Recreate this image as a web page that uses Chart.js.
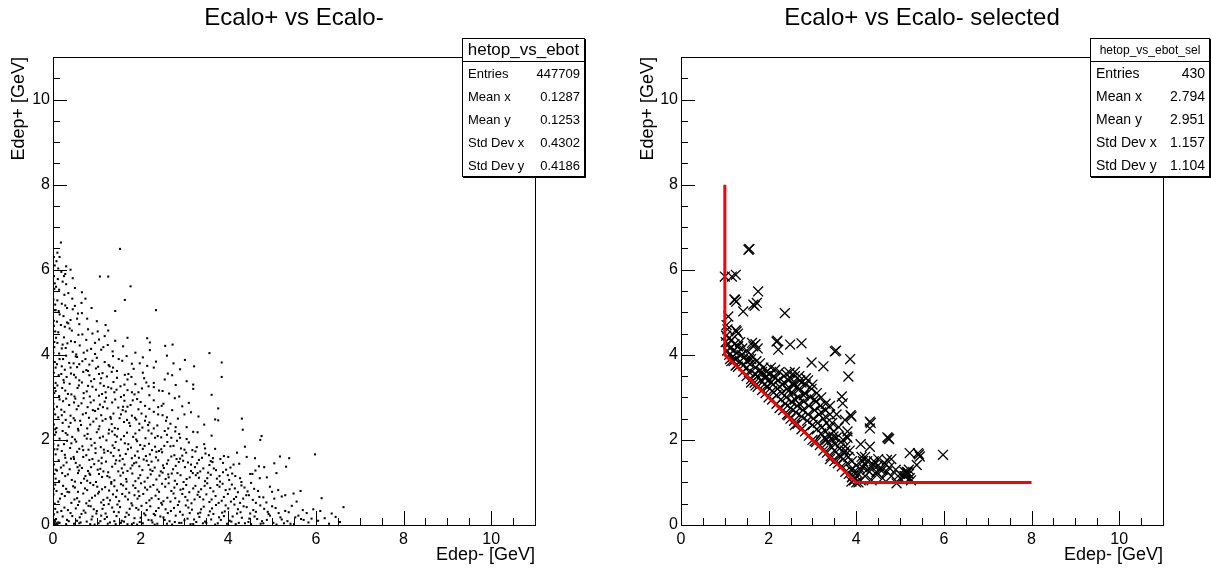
<!DOCTYPE html>
<html>
<head>
<meta charset="utf-8">
<script src="https://cdn.jsdelivr.net/npm/chart.js@4.4.0/dist/chart.umd.min.js"></script>
<style>
body { margin: 0; background: #fff; font-family: "Liberation Sans", Arial, sans-serif; }
#wrap { position: relative; width: 1211px; height: 571px; overflow: hidden; }
canvas { position: absolute; top: 0; }
.title { position: absolute; top: 3px; font-size: 24px; white-space: nowrap; transform: translateX(-50%); }
.stats { position: absolute; top: 38px; height: 139px; box-sizing: border-box; background: #fff;
  border: 1px solid #000; box-shadow: 1px 1px 0 #000; }
.stats .head { height: 22px; line-height: 22px; text-align: center; border-bottom: 1px solid #000; white-space: nowrap; }
.stats .row { display: flex; justify-content: space-between; height: 23px; line-height: 23px; padding: 0 4px 0 5px; white-space: nowrap; }
</style>
</head>
<body>
<div id="wrap">
  <canvas id="cAll" width="605" height="571" style="left:0"></canvas>
  <canvas id="cSel" width="606" height="571" style="left:605px"></canvas>
</div>
<script>
// axis setup
var tickValues = [0, 2, 4, 6, 8, 10];
var axisMax = 11;

var statLabels = ['Entries', 'Mean x', 'Mean y', 'Std Dev x', 'Std Dev y'];
var statsAll = ['447709', '0.1287', '0.1253', '0.4302', '0.4186'];
var statsSel = ['430', '2.794', '2.951', '1.157', '1.104'];

// selection cut drawn in red
var cutLine = [[1, 8], [1, 4], [4, 1], [8, 1]];

// all events (dots)
var hetopAll = [
  [0,0],[0.03,0.02],[0.06,0.01],[0.02,0.05],[0.08,0.04],[0.05,0.08],[0.1,0.02],[0.01,0.1],[0.12,0.06],[0.04,0.12],
  [0.15,0.05],[0.32,0.12],[0.48,0.03],[0.61,0.18],[0.77,0.08],[0.9,0.2],[1.04,0.04],[1.18,0.14],[1.3,0.06],[1.45,0.21],
  [1.57,0.1],[1.7,0.02],[1.86,0.16],[1.98,0.07],[2.11,0.23],[2.25,0.11],[2.38,0.03],[2.52,0.18],[2.66,0.09],[2.8,0.22],
  [2.93,0.05],[3.07,0.15],[3.2,0.02],[3.34,0.19],[3.47,0.08],[3.61,0.13],[3.76,0.04],[3.9,0.21],[4.03,0.1],[4.17,0.02],
  [4.31,0.17],[4.46,0.07],[4.6,0.2],[4.74,0.03],[4.88,0.12],[5.03,0.05],[5.19,0.18],[5.35,0.09],[5.5,0.02],[5.66,0.14],
  [5.83,0.06],[6.05,0.1],[6.3,0.03],[6.55,0.07],
  [0.22,0.2],[0.55,0.1],[0.85,0.02],[1.1,0.22],[1.4,0.09],[1.65,0.19],[1.92,0.01],[2.18,0.12],[2.45,0.2],[2.72,0.01],
  [3.0,0.11],[3.27,0.07],[3.55,0.23],[3.83,0.12],[4.1,0.2],[4.38,0.04],[4.66,0.14],[4.95,0.22],[5.27,0.04],[5.6,0.22],
  [0.3,0.02],[0.6,0.04],[0.95,0.01],[1.25,0.03],[1.55,0.05],[1.8,0.02],[2.05,0.04],[2.32,0.01],[2.6,0.03],[2.88,0.05],
  [3.14,0.02],[3.42,0.04],[3.7,0.01],[3.97,0.03],[4.24,0.05],[4.52,0.02],[4.8,0.04],[5.1,0.01],[5.42,0.03],[5.72,0.12],[6.2,0.16],
  [0.1,0.3],[0.26,0.41],[0.4,0.28],[0.57,0.47],[0.7,0.34],[0.86,0.44],[0.99,0.27],[1.13,0.38],[1.27,0.49],[1.39,0.31],
  [1.53,0.42],[1.68,0.29],[1.81,0.46],[1.95,0.36],[2.08,0.27],[2.22,0.44],[2.35,0.33],[2.49,0.48],[2.62,0.28],[2.76,0.4],
  [2.9,0.31],[3.03,0.46],[3.17,0.36],[3.31,0.27],[3.44,0.43],[3.58,0.32],[3.72,0.47],[3.86,0.29],[4.0,0.39],[4.14,0.48],
  [4.28,0.3],[4.42,0.42],[4.57,0.35],[4.73,0.46],[4.9,0.31],[5.08,0.4],[5.3,0.33],[5.45,0.45],[5.79,0.28],[5.94,0.37],
  [6.36,0.27],[6.63,0.42],
  [0.34,0.35],[0.65,0.26],[0.93,0.37],[1.2,0.27],[1.47,0.48],[1.75,0.38],[2.02,0.45],[2.3,0.26],[2.57,0.37],[2.85,0.47],
  [3.12,0.28],[3.38,0.37],[3.66,0.26],[3.94,0.46],[4.22,0.37],[4.5,0.27],[4.82,0.38],[5.15,0.28],
  [0.12,0.55],[0.27,0.68],[0.42,0.52],[0.55,0.63],[0.69,0.74],[0.83,0.57],[0.96,0.69],[1.1,0.53],[1.24,0.64],[1.37,0.72],
  [1.51,0.56],[1.65,0.67],[1.79,0.51],[1.93,0.62],[2.06,0.73],[2.2,0.58],[2.34,0.69],[2.47,0.52],[2.61,0.64],[2.75,0.74],
  [2.88,0.55],[3.02,0.66],[3.16,0.51],[3.3,0.71],[3.43,0.6],[3.57,0.54],[3.71,0.68],[3.85,0.57],[3.99,0.73],[4.13,0.61],
  [4.27,0.52],[4.41,0.7],[4.56,0.59],[4.71,0.66],[4.87,0.53],[5.05,0.62],[5.22,0.67],[5.56,0.55],[5.49,0.74],[6.13,0.63],
  [0.2,0.73],[0.49,0.6],[0.76,0.51],[1.03,0.74],[1.3,0.58],[1.58,0.73],[1.86,0.7],[2.13,0.52],[2.41,0.61],[2.68,0.55],
  [2.95,0.73],[3.23,0.6],[3.5,0.72],[3.78,0.52],[4.06,0.55],[4.34,0.62],[4.63,0.52],
  [0.08,0.8],[0.23,0.92],[0.37,0.77],[0.5,0.88],[0.64,0.99],[0.78,0.82],[0.92,0.94],[1.05,0.78],[1.19,0.89],[1.33,0.97],
  [1.46,0.81],[1.6,0.93],[1.74,0.76],[1.88,0.87],[2.01,0.98],[2.15,0.83],[2.29,0.94],[2.42,0.78],[2.56,0.9],[2.7,0.8],
  [2.83,0.96],[2.97,0.85],[3.11,0.77],[3.25,0.92],[3.38,0.84],[3.52,0.98],[3.66,0.79],[3.8,0.9],[3.94,0.82],[4.08,0.95],
  [4.22,0.77],[4.37,0.88],[4.52,0.99],[4.68,0.8],[4.95,0.9],[5.14,0.82],
  [0.3,0.85],[0.57,0.78],[0.85,0.99],[1.12,0.84],[1.4,0.91],[1.67,0.85],[1.95,0.79],[2.22,0.9],[2.49,0.97],[2.77,0.88],
  [3.04,0.94],[3.32,0.78],[3.59,0.87],[3.87,0.97],[4.15,0.86],[4.44,0.79],
  [0.14,1.03],[0.28,1.15],[0.43,1.06],[0.57,1.22],[0.71,1.09],[0.85,1.18],[0.98,1.01],[1.12,1.13],[1.26,1.24],[1.4,1.05],
  [1.54,1.16],[1.67,1.08],[1.81,1.21],[1.95,1.1],[2.09,1.02],[2.23,1.19],[2.36,1.07],[2.5,1.23],[2.64,1.12],[2.78,1.04],
  [2.91,1.17],[3.05,1.08],[3.19,1.22],[3.33,1.11],[3.47,1.03],[3.6,1.18],[3.74,1.09],[3.88,1.24],[4.02,1.06],[4.16,1.15],
  [4.3,1.01],[4.5,1.2],[4.72,1.1],[5.1,1.22],
  [0.21,1.22],[0.5,1.02],[0.78,1.04],[1.05,1.2],[1.33,1.01],[1.6,1.23],[1.88,1.03],[2.16,1.11],[2.43,1.16],[2.71,1.21],
  [2.98,1.01],[3.26,1.17],[3.54,1.23],[3.81,1.02],[4.09,1.21],
  [0.09,1.28],[0.24,1.4],[0.38,1.31],[0.52,1.46],[0.66,1.34],[0.8,1.27],[0.94,1.43],[1.08,1.32],[1.21,1.49],[1.35,1.37],
  [1.49,1.26],[1.63,1.42],[1.77,1.33],[1.9,1.47],[2.04,1.29],[2.18,1.41],[2.32,1.35],[2.46,1.26],[2.6,1.44],[2.74,1.31],
  [2.87,1.48],[3.01,1.36],[3.15,1.27],[3.29,1.45],[3.43,1.33],[3.57,1.41],[3.72,1.29],[3.88,1.46],[4.05,1.35],[4.25,1.44],
  [4.82,1.36],[5.32,1.37],[4.62,1.28],
  [0.31,1.47],[0.59,1.28],[0.87,1.36],[1.15,1.26],[1.42,1.44],[1.7,1.27],[1.97,1.38],[2.25,1.49],[2.53,1.34],[2.8,1.39],
  [3.08,1.47],[3.36,1.26],[3.64,1.48],[3.95,1.3],
  [0.13,1.52],[0.27,1.65],[0.41,1.56],[0.55,1.72],[0.69,1.6],[0.83,1.53],[0.97,1.69],[1.11,1.58],[1.25,1.74],[1.38,1.62],
  [1.52,1.51],[1.66,1.67],[1.8,1.57],[1.93,1.73],[2.07,1.54],[2.21,1.66],[2.35,1.59],[2.49,1.71],[2.63,1.52],[2.77,1.64],
  [2.9,1.56],[3.04,1.7],[3.18,1.6],[3.33,1.53],[3.48,1.68],[3.65,1.57],[3.9,1.62],[4.61,1.57],[5.18,1.61],[5.39,1.57],
  [5.98,1.66],[4.2,1.7],
  [0.2,1.74],[0.48,1.55],[0.76,1.64],[1.04,1.51],[1.32,1.7],[1.59,1.55],[1.87,1.63],[2.14,1.51],[2.42,1.74],[2.7,1.61],
  [2.97,1.51],[3.25,1.73],[3.56,1.64],
  [0.1,1.78],[0.25,1.9],[0.39,1.81],[0.53,1.96],[0.67,1.85],[0.81,1.77],[0.95,1.93],[1.09,1.83],[1.22,1.99],[1.36,1.87],
  [1.5,1.76],[1.64,1.92],[1.78,1.82],[1.92,1.97],[2.05,1.79],[2.19,1.91],[2.33,1.84],[2.47,1.78],[2.61,1.95],[2.75,1.86],
  [2.92,1.8],[3.1,1.94],[3.28,1.83],[3.45,1.9],[4.38,1.84],[3.7,1.79],
  [0.32,1.98],[0.6,1.79],[0.88,1.87],[1.16,1.77],[1.43,1.95],[1.71,1.78],[1.99,1.88],[2.26,1.76],[2.54,1.86],[2.83,1.98],[3.18,1.76],
  [0.15,2.03],[0.29,2.16],[0.44,2.07],[0.58,2.22],[0.72,2.1],[0.86,2.02],[1.0,2.18],[1.14,2.08],[1.28,2.24],[1.41,2.12],
  [1.55,2.01],[1.69,2.17],[1.83,2.07],[1.97,2.23],[2.11,2.04],[2.25,2.15],[2.39,2.09],[2.55,2.21],[2.7,2.05],[2.88,2.14],
  [3.05,2.02],[3.2,2.19],[3.62,2.1],[4.33,2.24],[4.73,2.0],[4.76,2.09],
  [0.22,2.21],[0.5,2.01],[0.79,2.14],[1.07,2.05],[1.35,2.2],[1.62,2.09],[1.9,2.01],[2.18,2.22],[2.47,2.06],[2.79,2.2],
  [0.08,2.28],[0.22,2.4],[0.36,2.31],[0.5,2.46],[0.64,2.35],[0.78,2.27],[0.92,2.43],[1.06,2.32],[1.2,2.49],[1.34,2.37],
  [1.48,2.26],[1.62,2.42],[1.76,2.33],[1.9,2.48],[2.04,2.29],[2.2,2.41],[2.38,2.34],[2.58,2.45],[2.8,2.3],[3.7,2.48],
  [3.77,2.46],[4.31,2.5],[3.45,2.36],
  [0.29,2.47],[0.57,2.26],[0.85,2.36],[1.13,2.45],[1.41,2.28],[1.69,2.47],[1.97,2.38],[2.3,2.27],[2.68,2.38],
  [0.12,2.53],[0.26,2.66],[0.4,2.57],[0.54,2.72],[0.68,2.6],[0.82,2.52],[0.96,2.68],[1.1,2.58],[1.24,2.74],[1.38,2.62],
  [1.52,2.51],[1.66,2.67],[1.8,2.57],[1.95,2.72],[2.12,2.55],[2.3,2.66],[2.5,2.58],[2.72,2.7],[3.0,2.6],[3.77,2.74],[3.32,2.55],
  [0.19,2.71],[0.47,2.51],[0.75,2.63],[1.03,2.73],[1.31,2.54],[1.59,2.7],[1.87,2.52],[2.2,2.73],[2.6,2.53],
  [0.09,2.78],[0.23,2.91],[0.37,2.82],[0.51,2.97],[0.65,2.86],[0.79,2.77],[0.93,2.93],[1.07,2.83],[1.21,2.99],[1.35,2.88],
  [1.49,2.76],[1.63,2.92],[1.77,2.82],[1.92,2.96],[2.1,2.8],[2.3,2.93],[2.52,2.85],[2.78,2.98],[3.1,2.87],[2.95,2.79],
  [0.3,2.97],[0.58,2.8],[0.86,2.88],[1.14,2.77],[1.42,2.95],[1.7,2.78],[2.0,2.89],[2.4,2.77],
  [0.14,3.03],[0.28,3.16],[0.42,3.07],[0.56,3.22],[0.7,3.1],[0.84,3.02],[0.98,3.18],[1.12,3.08],[1.26,3.24],[1.4,3.12],
  [1.55,3.01],[1.7,3.17],[1.86,3.07],[2.03,3.21],[2.2,3.05],[2.42,3.16],[2.65,3.09],[3.62,3.06],[3.2,3.2],[2.88,3.02],
  [0.21,3.22],[0.49,3.02],[0.77,3.14],[1.05,3.04],[1.33,3.21],[1.62,3.05],[1.95,3.12],[2.3,3.24],
  [0.1,3.28],[0.24,3.41],[0.38,3.32],[0.52,3.47],[0.66,3.35],[0.8,3.27],[0.94,3.43],[1.08,3.33],[1.23,3.49],[1.38,3.36],
  [1.54,3.26],[1.7,3.42],[1.88,3.31],[2.08,3.45],[2.3,3.34],[2.55,3.42],[2.8,3.29],[3.05,3.38],[3.85,3.48],[3.2,3.3],
  [0.31,3.48],[0.59,3.28],[0.87,3.38],[1.16,3.27],[1.46,3.46],[1.79,3.48],[2.18,3.26],
  [0.13,3.52],[0.27,3.65],[0.41,3.56],[0.55,3.71],[0.69,3.6],[0.83,3.52],[0.98,3.68],[1.13,3.57],[1.29,3.73],[1.46,3.62],
  [1.64,3.53],[1.84,3.67],[2.05,3.58],[2.3,3.7],[2.62,3.56],[2.9,3.66],[3.22,3.73],[2.72,3.52],
  [0.2,3.73],[0.48,3.53],[0.76,3.64],[1.05,3.55],[1.37,3.7],[1.72,3.55],[2.15,3.74],
  [0.09,3.78],[0.23,3.9],[0.37,3.81],[0.52,3.96],[0.67,3.85],[0.83,3.77],[1.0,3.93],[1.18,3.83],[1.37,3.97],[1.58,3.86],
  [1.8,3.79],[2.05,3.94],[2.35,3.84],[3.01,3.88],[3.85,3.82],[2.6,3.98],
  [0.3,3.98],[0.6,3.78],[0.9,3.86],[1.27,3.76],[1.68,3.97],
  [0.14,4.03],[0.29,4.16],[0.45,4.07],[0.61,4.22],[0.78,4.1],[0.96,4.02],[1.15,4.18],[1.36,4.08],[1.6,4.2],[1.88,4.05],
  [2.56,4.21],[2.73,4.24],[3.57,4.04],[2.21,4.11],
  [0.22,4.24],[0.53,4.01],[0.87,4.14],[1.25,4.23],
  [0.1,4.28],[0.25,4.41],[0.41,4.32],[0.58,4.47],[0.76,4.35],[0.96,4.28],[1.18,4.44],[1.42,4.33],[2.15,4.39],[2.21,4.29],[1.7,4.4],
  [0.33,4.27],[0.67,4.48],[1.05,4.36],
  [0.12,4.53],[0.27,4.66],[0.43,4.57],[0.6,4.72],[0.8,4.6],[1.02,4.55],[1.26,4.57],[0.35,4.74],[0.18,4.7],
  [0.09,4.78],[0.24,4.91],[0.4,4.82],[0.57,4.97],[0.78,4.85],[1.0,4.79],[0.32,4.76],[0.66,4.98],
  [0.13,5.03],[0.28,5.16],[0.45,5.07],[0.65,5.22],[0.88,5.1],[1.42,5.03],[2.35,5.05],[0.2,5.2],
  [0.1,5.28],[0.26,5.41],[0.44,5.32],[0.66,5.47],[1.64,5.29],[0.35,5.45],
  [0.14,5.53],[0.3,5.66],[0.5,5.57],[1.77,5.61],[0.22,5.72],
  [0.11,5.78],[0.28,5.9],[1.07,5.84],[1.26,5.84],[0.45,5.8],[0.19,5.95],
  [0.12,6.03],[0.3,6.08],[0.18,6.64],[1.53,6.49],[0.08,6.2],[0.1,6.4],
  [0.02,0.25],[0.04,0.5],[0.01,0.72],[0.05,0.95],[0.03,1.2],[0.02,1.42],[0.06,1.66],[0.01,1.9],[0.04,2.12],[0.02,2.36],
  [0.05,2.6],[0.01,2.85],[0.03,3.1],[0.06,3.34],[0.02,3.58],[0.04,3.83],[0.01,4.05],[0.03,4.3],[0.05,4.55],[0.02,4.8],
  [0.04,5.05],[0.01,5.3],[0.03,5.55],[0.02,5.85],[0.04,6.1],[0.02,6.3],
  [0.05,0.38],[0.02,0.85],[0.06,1.3],[0.03,1.78],[0.05,2.25],[0.02,2.72],[0.04,3.22],[0.06,3.7],[0.03,4.18],[0.02,4.68],
  [0.05,5.18],[0.04,5.68],
  [0.07,0.14],[0.19,0.33],[0.36,0.09],[0.44,0.21],[0.52,0.39],[0.63,0.06],[0.74,0.29],[0.81,0.45],[0.88,0.13],[1.0,0.33],
  [1.08,0.09],[1.16,0.47],[1.23,0.19],[1.35,0.41],[1.43,0.02],[1.5,0.3],[1.62,0.08],[1.73,0.24],[1.84,0.05],[1.9,0.4],
  [2.0,0.17],[2.14,0.35],[2.27,0.06],[2.33,0.23],[2.41,0.4],[2.55,0.12],[2.69,0.33],[2.78,0.07],[2.96,0.24],[3.09,0.41],
  [3.22,0.13],[3.36,0.29],[3.5,0.05],[3.63,0.39],[3.79,0.18],[3.92,0.32],[4.07,0.08],[4.2,0.27],[4.35,0.44],[4.48,0.15],
  [4.63,0.31],[4.77,0.09],[4.92,0.26],[5.0,0.44],[5.22,0.13],[5.38,0.3],[5.53,0.18],[5.7,0.35],[5.9,0.15],[6.1,0.33],[6.45,0.19],
  [0.16,0.62],[0.33,0.78],[0.46,0.91],[0.6,0.55],[0.73,0.86],[0.89,0.64],[1.01,0.9],[1.15,0.59],[1.28,0.81],[1.44,0.66],
  [1.55,0.96],[1.71,0.6],[1.83,0.93],[1.97,0.68],[2.1,0.88],[2.25,0.63],[2.38,0.83],[2.52,0.56],[2.64,0.98],[2.79,0.63],
  [2.91,0.83],[3.07,0.58],[3.2,0.86],[3.35,0.66],[3.46,0.92],[3.62,0.6],[3.75,0.94],[3.9,0.66],[4.03,0.84],[4.18,0.66],
  [4.3,0.93],[4.47,0.7],[4.59,0.85],[4.8,0.65],[5.0,0.78],[5.3,0.7],[5.65,0.8],
  [0.06,1.09],[0.18,1.35],[0.34,1.19],[0.47,1.6],[0.61,1.4],[0.74,1.15],[0.9,1.55],[1.02,1.3],[1.17,1.7],[1.29,1.12],
  [1.44,1.52],[1.57,1.33],[1.72,1.9],[1.85,1.45],[1.99,1.17],[2.12,1.62],[2.27,1.27],[2.4,1.52],[2.57,1.08],[2.68,1.85],
  [2.84,1.22],[2.95,1.63],[3.12,1.12],[3.24,1.36],[3.4,1.58],[3.52,1.1],[3.67,1.33],[3.82,1.55],[3.99,1.17],[4.12,1.42],
  [4.27,1.1],[4.42,1.6],[4.55,1.2],[4.7,1.38],[4.88,1.12],[5.05,1.45],
  [0.12,1.87],[0.28,1.58],[0.42,1.92],[0.56,1.36],[0.69,1.76],[0.83,1.21],[0.97,1.8],[1.11,1.45],[1.24,1.15],[1.4,1.81],
  [1.53,1.63],[1.68,1.02],[1.81,1.4],[1.96,1.58],[2.09,1.86],[2.22,1.3],[2.36,1.72],[2.51,1.4],[2.63,1.19],[2.82,1.55],
  [3.0,1.77],[3.15,1.42],[3.3,1.22],[3.47,1.8],[3.6,1.5],[3.8,1.15],[4.0,1.6],
  [0.07,2.18],[0.2,2.58],[0.33,2.12],[0.48,2.88],[0.62,2.45],[0.77,2.03],[0.91,2.7],[1.04,2.25],[1.18,2.9],[1.32,2.5],
  [1.46,2.08],[1.6,2.78],[1.74,2.4],[1.88,2.15],[2.02,2.62],[2.17,2.35],[2.33,2.05],[2.48,2.8],[2.63,2.27],[2.85,2.5],
  [3.05,2.3],[3.3,2.18],[3.15,2.65],[2.9,2.05],[0.15,2.95],[0.4,2.4],[0.7,2.98],[0.99,2.5],[1.27,2.15],[1.55,2.6],
  [1.82,2.93],[2.1,2.45],[2.4,2.6],[2.6,2.12],
  [0.06,3.15],[0.19,3.55],[0.34,3.08],[0.47,3.8],[0.6,3.4],[0.74,3.9],[0.9,3.25],[1.03,3.72],[1.2,3.12],[1.34,3.6],
  [1.5,3.9],[1.63,3.3],[1.8,3.12],[1.98,3.8],[2.13,3.35],[2.5,3.15],[2.75,3.8],[0.25,3.35],[0.55,3.95],[0.8,3.62],
  [1.1,3.45],[1.45,3.18],[0.4,3.7],[0.15,3.9],
  [0.07,4.4],[0.2,4.15],[0.38,4.62],[0.5,4.3],[0.7,4.05],[0.9,4.5],[1.1,4.12],[0.15,4.95],[0.32,5.1],[0.55,4.85],
  [0.74,5.32],[0.07,5.6],[0.25,5.85],[0.4,6.0],[0.15,6.3],[0.06,5.05],[0.5,5.15],[1.2,4.7]
];

// selected events (crosses)
var hetopSel = [
  [1.02,4.3],[1.05,4.1],[1.08,4.25],[1.1,4.0],[1.12,4.15],[1.15,4.35],[1.18,3.95],[1.2,4.1],[1.22,4.25],[1.25,3.9],
  [1.28,4.05],[1.3,4.2],[1.03,4.45],[1.06,4.6],[1.1,4.4],[1.35,3.85],[1.38,4.0],[1.4,4.15],[1.42,3.75],[1.45,3.95],
  [1.5,3.7],[1.5,3.85],[1.55,3.6],[1.58,3.78],[1.6,3.9],[1.62,4.28],[1.65,4.2],[1.68,3.55],[1.7,3.7],[1.72,3.85],
  [1.75,3.5],[1.78,3.62],[1.8,3.8],[1.82,3.4],[1.85,3.55],[1.88,3.7],[1.9,3.3],[1.92,3.45],[1.95,3.6],[1.98,3.25],
  [2.0,3.4],[2.02,3.55],[2.05,3.7],[2.08,3.15],[2.1,3.3],[2.12,3.5],[2.15,3.65],[2.18,3.05],[2.2,3.2],[2.22,3.4],
  [2.25,3.6],[2.28,2.95],[2.3,3.1],[2.32,3.3],[2.35,3.5],[2.38,2.85],[2.4,3.0],[2.42,3.2],[2.45,3.4],[2.48,3.58],
  [2.5,2.75],[2.52,2.9],[2.55,3.1],[2.58,3.3],[2.6,3.5],[2.62,2.65],[2.65,2.8],[2.68,3.0],[2.7,3.2],[2.72,3.4],
  [2.75,2.55],[2.78,2.7],[2.8,2.9],[2.82,3.1],[2.85,3.3],[2.88,2.45],[2.9,2.6],[2.92,2.8],[2.95,3.0],[2.98,3.2],
  [3.0,2.35],[3.02,2.5],[3.05,2.7],[3.08,2.9],[3.1,2.25],[3.12,2.4],[3.15,2.6],[3.18,2.8],[3.2,2.15],[3.22,2.3],
  [3.25,2.5],[3.28,2.05],[3.3,2.2],[3.32,2.4],[3.35,1.95],[3.38,2.1],[3.4,2.3],[3.42,1.85],[3.45,2.0],[3.48,2.2],
  [3.5,1.75],[3.52,1.9],[3.55,2.05],[3.6,1.65],[3.62,1.8],[3.65,1.95],[3.7,1.55],[3.72,1.7],[3.75,1.85],[3.8,1.45],
  [3.82,1.6],[3.85,1.75],[3.88,1.3],[3.9,1.5],[3.92,1.15],[3.95,1.05],[4.0,1.4],[4.05,1.2],[4.1,1.05],[4.12,1.6],
  [4.15,1.35],[4.2,1.15],[4.25,1.5],[4.3,1.25],[4.35,1.05],[4.4,1.4],[4.45,1.2],[4.5,1.55],[4.55,1.3],[4.6,1.1],
  [4.65,1.45],[4.7,1.25],[4.75,1.35],[4.8,1.15],[4.9,1.3],[5.0,1.1],[5.1,1.25],[5.12,1.15],[5.2,1.3],[5.22,1.1],
  [1.5,3.5],[2.0,3.0],[2.5,2.5],[3.0,2.0],[3.5,1.5],[1.25,3.75],[1.75,3.25],[2.25,2.75],[2.75,2.25],[3.25,1.75],[3.75,1.25],
  [1.12,3.9],[1.3,3.72],[1.42,3.6],[1.6,3.43],[1.68,3.35],[1.85,3.17],[1.93,3.1],[2.08,2.95],[2.18,2.85],[2.33,2.7],
  [2.42,2.6],[2.58,2.45],[2.66,2.38],[2.83,2.2],[2.92,2.1],[3.08,1.95],[3.17,1.88],[3.33,1.7],[3.42,1.62],[3.58,1.45],
  [3.67,1.38],[3.83,1.2],[3.9,1.12],[1.7,3.28],[2.45,2.58],[3.05,1.97],[1.6,3.35],[2.6,2.35],[3.4,1.55],
  [2.4,3.55],[2.5,3.45],[2.6,3.6],[2.7,3.5],[2.55,3.3],[2.65,3.25],[2.75,3.35],[2.85,3.45],[2.45,3.15],[2.8,3.05],
  [3.0,3.3],[3.1,3.1],[3.2,3.0],[3.3,2.85],[3.2,2.65],[3.3,2.7],[3.05,2.95],[2.9,3.4],[2.6,2.95],[2.35,3.35],
  [2.25,3.25],[2.15,3.45],[2.05,3.35],[1.95,3.5],[1.85,3.6],[2.7,2.85],[3.4,2.6],[3.45,2.4],[3.6,2.3],[3.55,2.6],
  [3.4,2.8],[3.7,2.0],[3.8,2.2],[3.65,1.6],[3.75,1.75],[4.1,1.9],[4.2,1.6],[4.25,1.3],[4.4,1.5],[4.5,1.4],
  [4.6,1.3],[4.8,1.55],[5.0,1.2],[5.1,1.15],[5.15,1.25],[5.2,1.2],[5.25,1.05],[4.15,1.5],[3.95,1.25],[3.98,1.1],
  [4.05,1.0],[4.0,1.0],
  [1.3,4.2],[1.35,4.3],[1.5,4.1],[1.6,4.0],[1.7,4.25],[1.75,4.15],[1.55,3.9],[1.2,3.85],[1.25,3.75],[1.15,3.85],
  [1.54,6.47],[1.56,6.49],[1.16,5.84],[1.25,5.88],[1.0,5.84],[1.23,5.29],[1.26,5.25],[1.22,5.3],[1.65,5.18],[1.68,5.15],
  [1.73,5.22],[1.76,5.49],[1.42,5.02],[2.37,4.98],[1.08,4.9],[1.04,4.7],[1.27,4.55],[1.3,4.5],[1.25,4.58],[2.18,4.31],
  [2.2,4.33],[2.22,4.12],[2.49,4.24],[2.75,4.27],[3.51,4.08],[3.54,4.1],[3.86,3.9],[2.98,3.82],[3.25,3.73],[3.82,3.49],
  [3.67,3.02],[3.69,2.86],[3.89,2.55],[3.87,2.58],[3.74,2.47],[4.31,2.43],[4.33,2.4],[4.31,2.27],[4.73,2.04],[4.75,2.02],
  [4.71,2.06],[4.31,1.84],[5.22,1.69],[5.41,1.69],[5.43,1.66],[5.45,1.61],[5.98,1.65],[5.38,1.41],[5.15,1.22],[5.17,1.24],
  [4.92,0.98],[3.89,1.02],[4.08,1.33],[4.2,1.42],[4.38,1.42],[4.7,1.53],[4.46,1.25],[3.78,2.08],[3.8,2.05],[3.48,2.08],[3.32,2.0]
];

Chart.defaults.font.family = '"Liberation Sans", Arial, sans-serif';
Chart.defaults.color = '#000';

// ROOT style frame, ticks inside the box
var rootFrame = {
  id: 'rootFrame',
  afterDatasetsDraw: function(chart) {
    var ctx = chart.ctx, a = chart.chartArea;
    var xs = chart.scales.x, ys = chart.scales.y;
    ctx.save();
    ctx.strokeStyle = '#000';
    ctx.lineWidth = 1;
    ctx.strokeRect(Math.round(a.left) + 0.5, Math.round(a.top) + 0.5,
      Math.round(a.right - a.left), Math.round(a.bottom - a.top));
    ctx.beginPath();
    for (var v = 0; v < axisMax; v += 0.5) {
      var len = (v % 2 === 0) ? 14 : 7;
      var px = Math.round(xs.getPixelForValue(v)) + 0.5;
      ctx.moveTo(px, a.bottom);
      ctx.lineTo(px, a.bottom - len);
      var py = Math.round(ys.getPixelForValue(v)) + 0.5;
      ctx.moveTo(a.left, py);
      ctx.lineTo(a.left + len, py);
    }
    ctx.stroke();
    ctx.restore();
  }
};

function axis(titleText, fitSize, isY, titlePad) {
  return {
    type: 'linear',
    min: 0,
    max: axisMax,
    grid: { display: false, drawTicks: false },
    border: { display: false },
    afterBuildTicks: function(scale) {
      scale.ticks = tickValues.map(function(v) { return { value: v }; });
    },
    afterFit: function(scale) {
      if (isY) scale.width = fitSize; else scale.height = fitSize;
    },
    ticks: { font: { size: 16 }, padding: isY ? 3 : 5, color: '#000' },
    title: {
      display: true,
      text: titleText,
      align: 'end',
      font: { size: 18 },
      padding: titlePad,
      color: '#000'
    }
  };
}

function makeChart(id, datasets, padRight, yWidth, yTitlePad) {
  return new Chart(document.getElementById(id), {
    type: 'scatter',
    data: { datasets: datasets },
    options: {
      responsive: false,
      animation: false,
      events: [],
      layout: { padding: { top: 57, right: padRight, left: 0, bottom: 0 } },
      plugins: { legend: { display: false }, tooltip: { enabled: false } },
      scales: {
        x: axis('Edep- [GeV]', 46, false, { top: 0, bottom: 5 }),
        y: axis('Edep+ [GeV]', yWidth, true, { top: yTitlePad, bottom: 0 })
      }
    },
    plugins: [rootFrame]
  });
}

makeChart('cAll', [{
  label: 'hetop_vs_ebot',
  data: hetopAll,
  pointStyle: 'rect',
  pointRadius: 1.45,
  pointBorderWidth: 0,
  backgroundColor: '#000',
  borderColor: '#000'
}], 70, 53, 8);

makeChart('cSel', [{
  label: 'cut',
  data: cutLine,
  showLine: true,
  borderColor: '#ff0000',
  borderWidth: 3,
  pointRadius: 0,
  fill: false
}, {
  label: 'hetop_vs_ebot_sel',
  data: hetopSel,
  pointStyle: 'crossRot',
  pointRadius: 7,
  pointBorderWidth: 1.3,
  borderColor: '#000',
  backgroundColor: '#000'
}], 48, 76, 32);

// titles and stat boxes
function addTitle(text, centerX) {
  var d = document.createElement('div');
  d.className = 'title';
  d.style.left = centerX + 'px';
  d.textContent = text;
  document.getElementById('wrap').appendChild(d);
}
addTitle('Ecalo+ vs Ecalo-', 294);
addTitle('Ecalo+ vs Ecalo- selected', 922);

function addStats(left, width, name, values, headSize, rowSize) {
  var box = document.createElement('div');
  box.className = 'stats';
  box.style.left = left + 'px';
  box.style.width = width + 'px';
  var head = document.createElement('div');
  head.className = 'head';
  head.style.fontSize = headSize + 'px';
  head.textContent = name;
  box.appendChild(head);
  statLabels.forEach(function(lbl, i) {
    var row = document.createElement('div');
    row.className = 'row';
    row.style.fontSize = rowSize + 'px';
    var l = document.createElement('span'); l.textContent = lbl;
    var v = document.createElement('span'); v.textContent = values[i];
    row.appendChild(l); row.appendChild(v);
    box.appendChild(row);
  });
  document.getElementById('wrap').appendChild(box);
}
addStats(462, 123, 'hetop_vs_ebot', statsAll, 17, 13);
addStats(1090, 120, 'hetop_vs_ebot_sel', statsSel, 12, 14);
</script>
</body>
</html>
